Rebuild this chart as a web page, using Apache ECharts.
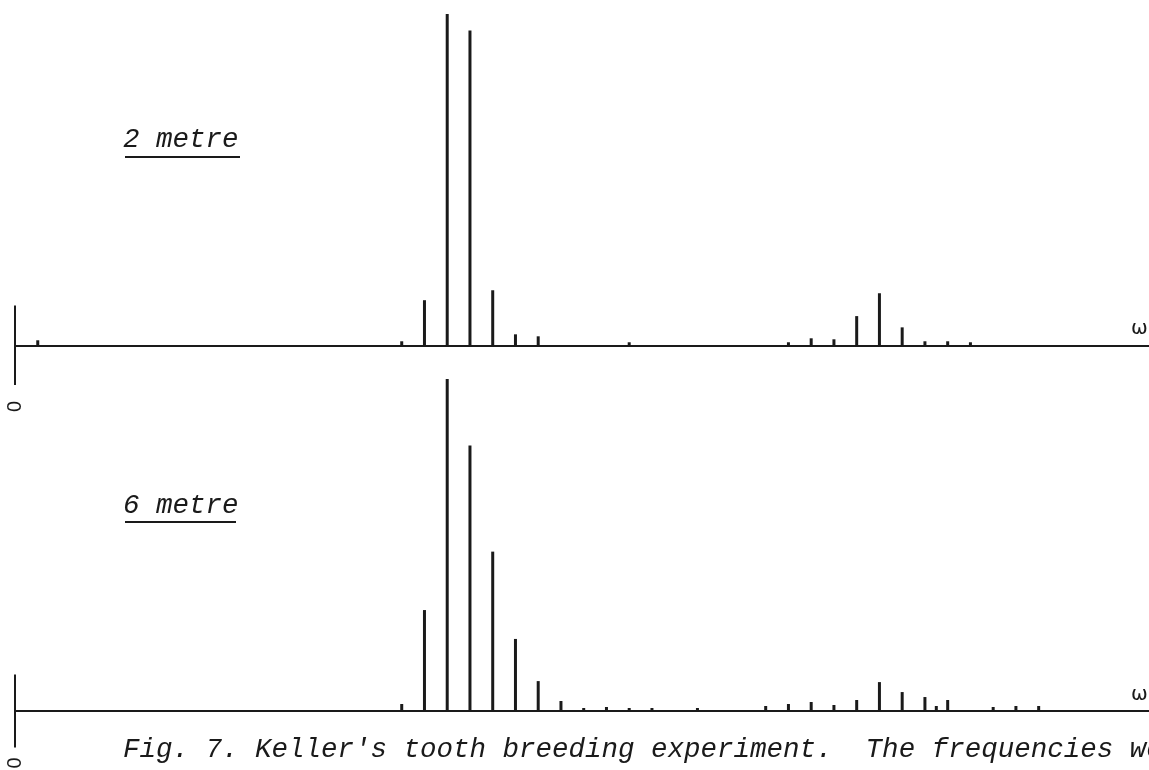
<!DOCTYPE html>
<html>
<head>
<meta charset="utf-8">
<script src="https://cdn.jsdelivr.net/npm/echarts@6/dist/echarts.min.js"></script>
<style>
html, body { margin: 0; padding: 0; background: #fff; }
#chart { width: 1149px; height: 770px; }
</style>
</head>
<body>
<div id="chart"></div>
<script>
// spectral lines: position in multiples of the base frequency, amplitude relative (max = 100)
var freq2m = [1, 17, 18, 19, 20, 21, 22, 23, 27, 34, 35, 36, 37, 38, 39, 40, 41, 42];
var amp2m = [1.5, 1.2, 13.6, 100, 95, 16.6, 3.3, 2.7, 0.9, 0.9, 2.1, 1.8, 8.8, 15.7, 5.4, 1.2, 1.2, 0.9];
var freq6m = [17, 18, 19, 20, 21, 22, 23, 24, 25, 26, 27, 28, 30, 33, 34, 35, 36, 37, 38, 39, 40, 40.5, 41, 43, 44, 45];
var amp6m = [2.1, 30.4, 100, 80, 48, 21.7, 9, 3, 0.9, 1.2, 0.9, 0.9, 0.9, 1.5, 2.1, 2.7, 1.8, 3.3, 8.7, 5.7, 4.2, 1.5, 3.3, 1.2, 1.5, 1.5];
var panelNames = ['2 metre', '6 metre'];
var caption = "Fig. 7. Keller's tooth breeding experiment.  The frequencies we";

var ink = '#1a1a1a';
var typeFont = '"Liberation Mono", "DejaVu Sans Mono", monospace';
var xMax = 49.85;

function pairs(xs, ys) {
  return xs.map(function (x, i) { return [x, ys[i]]; });
}

function xAxisFor(idx, labelGap) {
  return {
    type: 'value',
    gridIndex: idx,
    min: 0,
    max: xMax,
    interval: 50,
    name: 'ω',
    nameLocation: 'end',
    nameGap: -18,
    nameTextStyle: {
      color: ink,
      fontSize: 20,
      fontFamily: 'DejaVu Sans',
      verticalAlign: 'bottom',
      padding: [0, 0, 6, 0]
    },
    axisLine: { onZero: true, lineStyle: { color: ink, width: 2 } },
    axisTick: { show: false },
    splitLine: { show: false },
    axisLabel: {
      showMaxLabel: false,
      rotate: 90,
      margin: labelGap,
      color: ink,
      fontSize: 20,
      fontFamily: '"Liberation Sans", Arial, sans-serif',
      formatter: function (v) { return v === 0 ? '0' : ''; }
    }
  };
}

function yAxisFor(idx, lo) {
  return {
    type: 'value',
    gridIndex: idx,
    min: lo,
    max: 100,
    axisLine: { show: false },
    axisTick: { show: false },
    axisLabel: { show: false },
    splitLine: { show: false }
  };
}

function spikes(idx, data, stub) {
  return {
    type: 'bar',
    xAxisIndex: idx,
    yAxisIndex: idx,
    barWidth: 3,
    clip: false,
    itemStyle: { color: ink },
    data: data,
    markLine: {
      silent: true,
      symbol: ['none', 'none'],
      label: { show: false },
      lineStyle: { color: ink, width: 2, type: 'solid' },
      data: [[{ coord: [0, -stub] }, { coord: [0, stub] }]]
    }
  };
}

var titleStyle = { fontFamily: typeFont, fontStyle: 'italic', fontWeight: 'normal', fontSize: 27.5, color: ink };

var myCharts = echarts.init(document.getElementById('chart'));
var option = {
  animation: false,
  backgroundColor: '#fff',
  title: [
    { text: panelNames[0], left: 123, top: 126, padding: 0, textStyle: titleStyle },
    { text: panelNames[1], left: 123, top: 492, padding: 0, textStyle: titleStyle },
    { text: caption, left: 123, top: 736, padding: 0, textStyle: titleStyle }
  ],
  graphic: [
    { type: 'line', shape: { x1: 125, y1: 157, x2: 240, y2: 157 }, style: { stroke: ink, lineWidth: 2 } },
    { type: 'line', shape: { x1: 125, y1: 522, x2: 236, y2: 522 }, style: { stroke: ink, lineWidth: 2 } }
  ],
  grid: [
    { left: 15, right: 0, top: 14, bottom: 385, outerBoundsMode: 'none', containLabel: false },
    { left: 15, right: 0, top: 379, bottom: 22.5, outerBoundsMode: 'none', containLabel: false }
  ],
  xAxis: [xAxisFor(0, 16), xAxisFor(1, 10)],
  yAxis: [yAxisFor(0, -12), yAxisFor(1, -11)],
  series: [
    spikes(0, pairs(freq2m, amp2m), 12),
    spikes(1, pairs(freq6m, amp6m), 11)
  ]
};
myCharts.setOption(option);
window.addEventListener('resize', function () {
  myCharts.resize();
});
</script>
</body>
</html>
